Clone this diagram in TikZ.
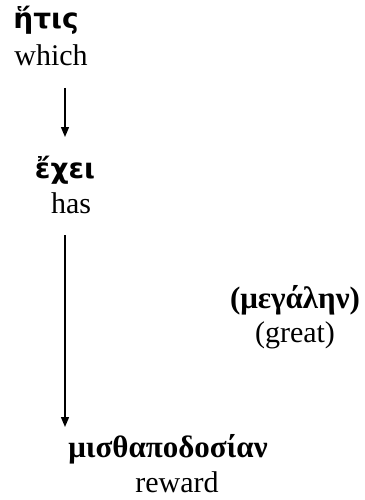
\documentclass[tikz,border=0pt]{standalone}
\usepackage{fontspec}
\setmainfont{Liberation Serif}
\newfontfamily\grsans{DejaVu Sans}
\newfontfamily\grserif{Liberation Serif}
\usetikzlibrary{arrows.meta}
\tikzset{
  en/.style={anchor=base,inner sep=0pt,font=\fontsize{30}{36}\selectfont},
  grA/.style={anchor=base,inner sep=0pt,font=\grsans\bfseries\fontsize{28}{34}\selectfont},
  grB/.style={anchor=base,inner sep=0pt,font=\grserif\bfseries\fontsize{31}{37}\selectfont},
  conn/.style={line width=1.4pt,-{Triangle[length=10pt,width=8pt]}}
}
\begin{document}
\begin{tikzpicture}[x=1pt,y=-1pt]
\useasboundingbox (0,0) rectangle (364,500);
\node[grA] (g1) at (46,29) {ἥτις};
\node[en] (e1) at (51,66) {which};
\node[grA] (g2) at (65,178) {ἔχει};
\node[en] (e2) at (71,213) {has};
\node[grB] (g3) at (295,308) {(μεγάλην)};
\node[en] (e3) at (295,342) {(great)};
\node[grB] (g4) at (168,457) {μισθαποδοσίαν};
\node[en] (e4) at (177,492) {reward};
\coordinate (a1s) at (65,88);
\coordinate (a1e) at (65,137);
\coordinate (a2s) at (65,235);
\coordinate (a2e) at (65,427);
\draw[conn] (a1s) -- (a1e);
\draw[conn] (a2s) -- (a2e);
\end{tikzpicture}
\end{document}
